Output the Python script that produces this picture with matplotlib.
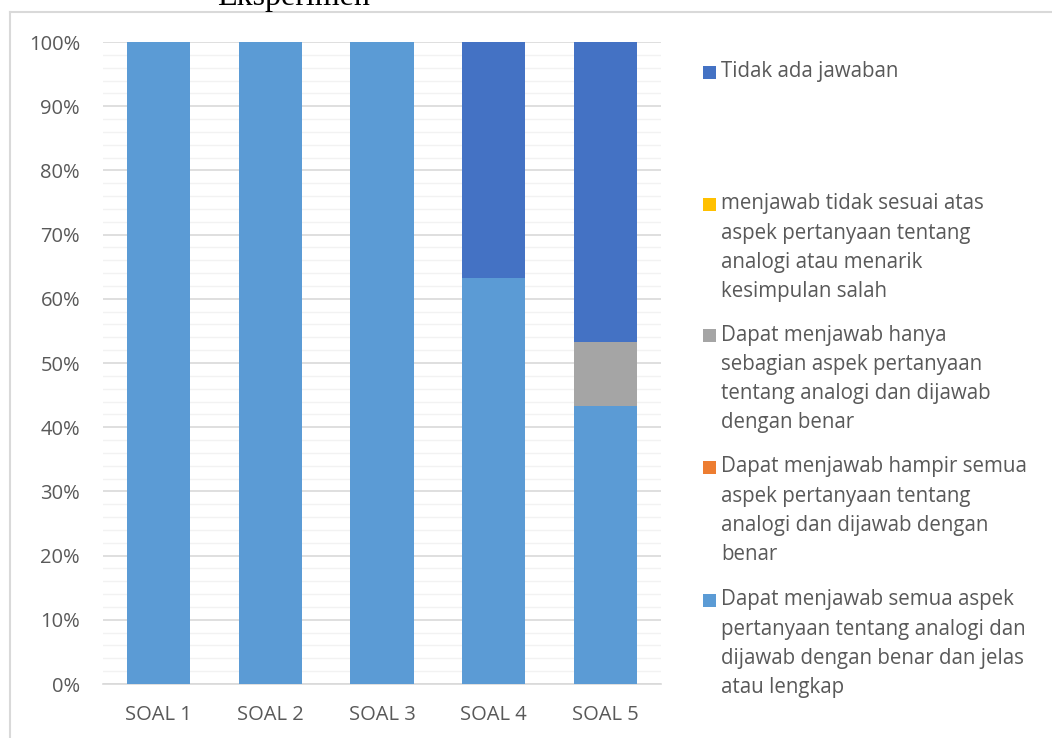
import matplotlib
matplotlib.use("Agg")
import matplotlib.pyplot as plt
from matplotlib.patches import Rectangle
from matplotlib.lines import Line2D
import numpy as np

categories = ["SOAL 1", "SOAL 2", "SOAL 3", "SOAL 4", "SOAL 5"]

# shares per answer category (percent), bottom to top of the stack
semua = [100.0, 100.0, 100.0, 63.3, 43.3]
hampir = [0.0, 0.0, 0.0, 0.0, 0.0]
hanya = [0.0, 0.0, 0.0, 0.0, 10.0]
tidak_sesuai = [0.0, 0.0, 0.0, 0.0, 0.0]
tidak_ada = [0.0, 0.0, 0.0, 36.7, 46.7]

labels = {
    "tidak_ada": "Tidak ada jawaban",
    "tidak_sesuai": "menjawab tidak sesuai atas\naspek pertanyaan tentang\nanalogi atau menarik\nkesimpulan salah",
    "hanya": "Dapat menjawab hanya\nsebagian aspek pertanyaan\ntentang analogi dan dijawab\ndengan benar",
    "hampir": "Dapat menjawab hampir semua\naspek pertanyaan tentang\nanalogi dan dijawab dengan\nbenar",
    "semua": "Dapat menjawab semua aspek\npertanyaan tentang analogi dan\ndijawab dengan benar dan jelas\natau lengkap",
}
colors = {
    "semua": "#5B9BD5",
    "hampir": "#ED7D31",
    "hanya": "#A5A5A5",
    "tidak_sesuai": "#FFC000",
    "tidak_ada": "#4472C4",
}

plt.rcParams["font.family"] = ["Open Sans", "DejaVu Sans"]
TXT = "#595959"
W, H = 1052, 738

fig = plt.figure(figsize=(W / 100, H / 100), dpi=100)
ax = fig.add_axes([103 / W, (H - 684) / H, 558 / W, 642 / H])

x = np.arange(len(categories))
series = [("semua", semua), ("hampir", hampir), ("hanya", hanya),
          ("tidak_sesuai", tidak_sesuai), ("tidak_ada", tidak_ada)]
bottom = np.zeros(len(categories))
for key, vals in series:
    vals = np.array(vals)
    ax.bar(x, vals, bottom=bottom, width=0.565, color=colors[key],
           zorder=3, linewidth=0)
    bottom += vals

ax.set_xlim(-0.5, len(categories) - 0.5)
ax.set_ylim(0, 100)
ax.set_yticks(np.arange(0, 101, 10))
ax.set_yticks(np.arange(0, 101, 2), minor=True)
ax.set_yticklabels([f"{v}%" for v in range(0, 101, 10)])
ax.set_xticks(x)
ax.set_xticklabels(categories)
ax.tick_params(axis="both", length=0, labelsize=14.5, colors=TXT)
ax.tick_params(axis="y", which="minor", length=0)
ax.tick_params(axis="y", pad=16.5)
ax.tick_params(axis="x", pad=15)
ax.grid(axis="y", which="major", color="#D9D9D9", lw=1.2, zorder=0)
ax.grid(axis="y", which="minor", color="#F2F2F2", lw=1.0, zorder=0)
for s in ["top", "right", "left"]:
    ax.spines[s].set_visible(False)
ax.spines["bottom"].set_color("#D9D9D9")
ax.spines["bottom"].set_linewidth(1.2)

# chart area border (partially visible)
fig.add_artist(Line2D([10 / W, 1], [1 - 12 / H, 1 - 12 / H], color="#D9D9D9", lw=1.5))
fig.add_artist(Line2D([10 / W, 10 / W], [0, 1 - 12 / H], color="#D9D9D9", lw=1.5))

# cut-off title
fig.text(294 / W, 1 - 5 / H, "Eksperimen", family="Liberation Serif",
         fontsize=23, ha="center", va="baseline", color="black")

# legend
legend_order = ["tidak_ada", "tidak_sesuai", "hanya", "hampir", "semua"]
entry_y = [72, 204, 335, 467, 600]
line_h = 29.3
for key, y0 in zip(legend_order, entry_y):
    fig.add_artist(Rectangle((703 / W, 1 - (y0 + 7) / H), 13 / W, 13 / H,
                             facecolor=colors[key], edgecolor="none"))
    for i, line in enumerate(labels[key].split("\n")):
        fig.text(721 / W, 1 - (y0 + i * line_h) / H, line, fontsize=14.8,
                 color=TXT, ha="left", va="center")

fig.savefig("out.png", dpi=100)
